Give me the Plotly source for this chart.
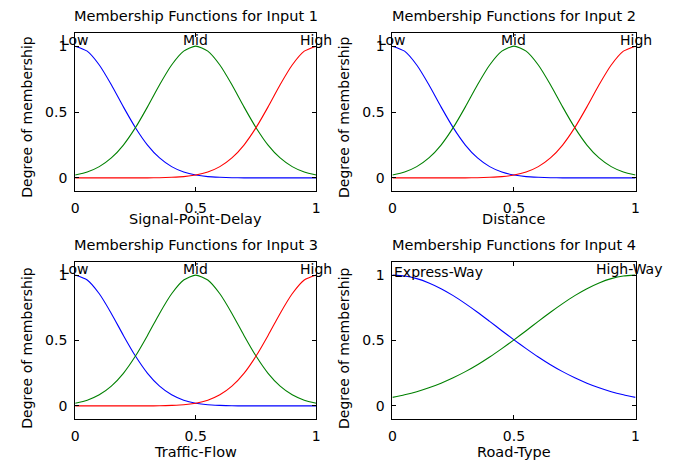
import plotly.graph_objects as go

# ---------------- data ----------------
x_pts = [0.0, 0.05, 0.1, 0.15, 0.2, 0.25, 0.3, 0.35, 0.4, 0.45, 0.5,
         0.55, 0.6, 0.65, 0.7, 0.75, 0.8, 0.85, 0.9, 0.95, 1.0]

# three-term inputs (Input 1, 2, 3 share the same shapes)
low_vals = [1.0, 0.962, 0.857, 0.707, 0.539, 0.381, 0.249, 0.151, 0.085, 0.044, 0.021,
            0.009, 0.004, 0.001, 0.0, 0.0, 0.0, 0.0, 0.0, 0.0, 0.0]
mid_vals = [0.021, 0.044, 0.085, 0.151, 0.249, 0.381, 0.539, 0.707, 0.857, 0.962, 1.0,
            0.962, 0.857, 0.707, 0.539, 0.381, 0.249, 0.151, 0.085, 0.044, 0.021]
high_vals = [0.0, 0.0, 0.0, 0.0, 0.0, 0.0, 0.0, 0.001, 0.004, 0.009, 0.021,
             0.044, 0.085, 0.151, 0.249, 0.381, 0.539, 0.707, 0.857, 0.962, 1.0]

# Input 4 (Road-Type)
express_vals = [1.0, 0.993, 0.973, 0.940, 0.896, 0.843, 0.782, 0.716, 0.646, 0.575, 0.505,
                0.438, 0.374, 0.315, 0.262, 0.215, 0.174, 0.139, 0.109, 0.085, 0.065]
highway_vals = [0.065, 0.085, 0.109, 0.139, 0.174, 0.215, 0.262, 0.315, 0.374, 0.438, 0.505,
                0.575, 0.646, 0.716, 0.782, 0.843, 0.896, 0.940, 0.973, 0.993, 1.0]

panel_titles = ["Membership Functions for Input 1", "Membership Functions for Input 2",
                "Membership Functions for Input 3", "Membership Functions for Input 4"]
x_labels = ["Signal-Point-Delay", "Distance", "Traffic-Flow", "Road-Type"]
y_label = "Degree of membership"
three_names = ["Low", "Mid", "High"]
road_names = ["Express-Way", "High-Way"]
tick_vals = [0, 0.5, 1]
tick_text = ["0", "0.5", "1"]

# ---------------- styling ----------------
FONT = "DejaVu Sans"
BLUE, GREEN, RED = "#0000ff", "#008000", "#ff0000"
W, H = 686, 463

x_doms = [[72 / W, 316 / W], [393 / W, 639 / W]]
y_doms = [[1 - 191 / H, 1 - 33 / H], [1 - 419 / H, 1 - 262 / H]]
title_y = [1 - 16 / H, 1 - 244.5 / H]
xlab_y = [1 - 219 / H, 1 - 452 / H]
ylab_x = [23 / W, 344 / W]
ylab_y = [1 - 117 / H, 1 - 348 / H]

fig = go.Figure()

panels = [
    (0, 0, [(low_vals, BLUE), (mid_vals, GREEN), (high_vals, RED)]),
    (0, 1, [(low_vals, BLUE), (mid_vals, GREEN), (high_vals, RED)]),
    (1, 0, [(low_vals, BLUE), (mid_vals, GREEN), (high_vals, RED)]),
    (1, 1, [(express_vals, BLUE), (highway_vals, GREEN)]),
]

annotations = []
for i, (r, c, series) in enumerate(panels):
    n = i + 1
    xa = "x" if n == 1 else f"x{n}"
    ya = "y" if n == 1 else f"y{n}"
    for vals, col in series:
        fig.add_trace(go.Scatter(x=x_pts, y=vals, mode="lines", xaxis=xa, yaxis=ya,
                                 line=dict(color=col, width=1.1, shape="spline", smoothing=0.6),
                                 showlegend=False, hoverinfo="skip"))
    axis_common = dict(showline=True, linecolor="black", linewidth=1, mirror="ticks",
                       ticks="inside", ticklen=4, tickcolor="black", tickwidth=1,
                       showgrid=False, zeroline=False,
                       tickvals=tick_vals, ticktext=tick_text,
                       tickfont=dict(family=FONT, size=14, color="black"))
    fig.update_layout(**{
        ("xaxis" if n == 1 else f"xaxis{n}"): dict(axis_common, domain=x_doms[c], range=[0, 1],
                                                   anchor=ya, ticklabelstandoff=4),
        ("yaxis" if n == 1 else f"yaxis{n}"): dict(axis_common, domain=y_doms[r], range=[-0.1, 1.1],
                                                   anchor=xa, ticklabelstandoff=4),
    })
    # panel title
    annotations.append(dict(text=panel_titles[i], x=(x_doms[c][0] + x_doms[c][1]) / 2, y=title_y[r],
                            xref="paper", yref="paper", xanchor="center", yanchor="middle",
                            showarrow=False, font=dict(family=FONT, size=14.5, color="black")))
    # x label
    annotations.append(dict(text=x_labels[i], x=(x_doms[c][0] + x_doms[c][1]) / 2, y=xlab_y[r],
                            xref="paper", yref="paper", xanchor="center", yanchor="middle",
                            showarrow=False, font=dict(family=FONT, size=14.5, color="black")))
    # y label
    annotations.append(dict(text=y_label, x=ylab_x[c], y=ylab_y[r], textangle=-90,
                            xref="paper", yref="paper", xanchor="center", yanchor="middle",
                            showarrow=False, font=dict(family=FONT, size=14, color="black")))
    # MF names
    if n < 4:
        for name, xp in zip(three_names, [0, 0.5, 1]):
            annotations.append(dict(text=name, x=xp, y=1, xref=xa, yref=ya,
                                    xanchor="center", yanchor="bottom", yshift=-4,
                                    showarrow=False, font=dict(family=FONT, size=14, color="black")))
    else:
        for name, xp, ys in zip(road_names, [0.19, 0.975], [-7, -4]):
            annotations.append(dict(text=name, x=xp, y=1, xref=xa, yref=ya,
                                    xanchor="center", yanchor="bottom", yshift=ys,
                                    showarrow=False, font=dict(family=FONT, size=14, color="black")))

fig.update_layout(width=W, height=H, margin=dict(l=0, r=0, t=0, b=0),
                  paper_bgcolor="white", plot_bgcolor="white",
                  annotations=annotations, showlegend=False)

fig.write_html("out.html", config={"displayModeBar": False, "staticPlot": True},
               post_script="document.body.style.margin='0';document.body.style.padding='0';")
